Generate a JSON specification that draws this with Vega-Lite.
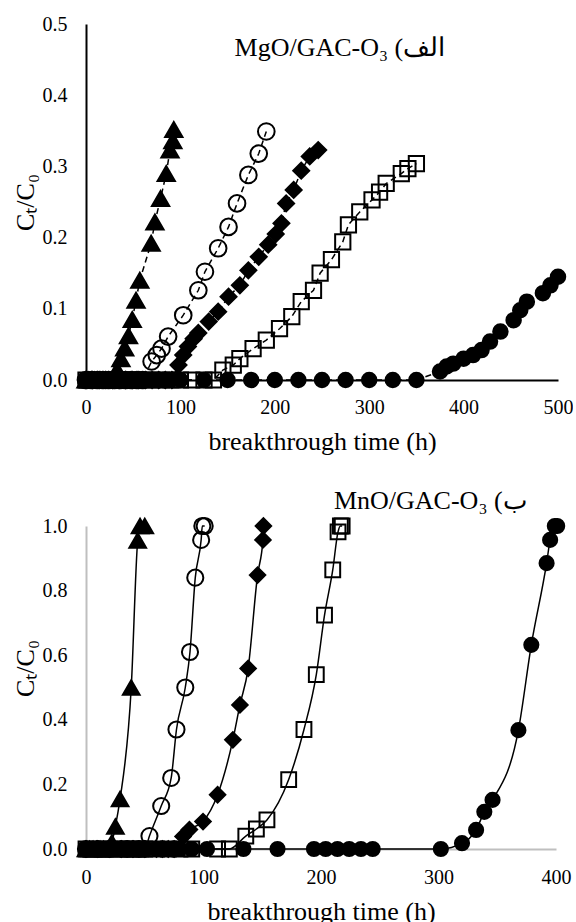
{
  "$schema": "https://vega.github.io/schema/vega-lite/v6.json",
  "padding": {"left": 12, "top": 14, "right": 0, "bottom": 0},
  "background": "white",
  "spacing": 33,
  "datasets": {
    "top": [
      {"s":"A","t":0,"c":0},{"s":"A","t":3,"c":0},{"s":"A","t":6,"c":0},{"s":"A","t":9,"c":0},{"s":"A","t":12,"c":0},{"s":"A","t":15,"c":0},{"s":"A","t":18,"c":0},{"s":"A","t":21,"c":0},{"s":"A","t":24,"c":0},{"s":"A","t":27,"c":0},{"s":"A","t":30,"c":0},
      {"s":"A","t":33,"c":0.014},{"s":"A","t":37,"c":0.03},{"s":"A","t":41,"c":0.045},{"s":"A","t":45,"c":0.062},{"s":"A","t":49,"c":0.085},{"s":"A","t":53,"c":0.112},{"s":"A","t":57,"c":0.14},{"s":"A","t":69,"c":0.192},{"s":"A","t":73,"c":0.222},{"s":"A","t":79,"c":0.255},{"s":"A","t":85,"c":0.29},{"s":"A","t":89,"c":0.323},{"s":"A","t":92,"c":0.336},{"s":"A","t":93,"c":0.352},
      {"s":"B","t":0,"c":0},{"s":"B","t":6,"c":0},{"s":"B","t":12,"c":0},{"s":"B","t":18,"c":0},{"s":"B","t":24,"c":0},{"s":"B","t":30,"c":0},{"s":"B","t":36,"c":0},{"s":"B","t":42,"c":0},{"s":"B","t":48,"c":0},{"s":"B","t":54,"c":0},{"s":"B","t":60,"c":0},
      {"s":"B","t":69.5,"c":0.026},{"s":"B","t":75,"c":0.035},{"s":"B","t":80,"c":0.044},{"s":"B","t":87,"c":0.061},{"s":"B","t":103,"c":0.091},{"s":"B","t":119,"c":0.126},{"s":"B","t":126,"c":0.152},{"s":"B","t":140,"c":0.185},{"s":"B","t":151,"c":0.215},{"s":"B","t":160,"c":0.248},{"s":"B","t":172,"c":0.288},{"s":"B","t":183,"c":0.318},{"s":"B","t":191,"c":0.349},
      {"s":"C","t":0,"c":0},{"s":"C","t":7,"c":0},{"s":"C","t":14,"c":0},{"s":"C","t":21,"c":0},{"s":"C","t":28,"c":0},{"s":"C","t":35,"c":0},{"s":"C","t":42,"c":0},{"s":"C","t":49,"c":0},{"s":"C","t":56,"c":0},{"s":"C","t":63,"c":0},{"s":"C","t":70,"c":0},{"s":"C","t":77,"c":0},{"s":"C","t":84,"c":0},{"s":"C","t":91,"c":0},
      {"s":"C","t":98,"c":0.021},{"s":"C","t":103,"c":0.035},{"s":"C","t":108,"c":0.047},{"s":"C","t":114,"c":0.058},{"s":"C","t":119,"c":0.066},{"s":"C","t":130,"c":0.082},{"s":"C","t":140,"c":0.096},{"s":"C","t":151,"c":0.117},{"s":"C","t":163,"c":0.133},{"s":"C","t":172,"c":0.154},{"s":"C","t":183,"c":0.173},{"s":"C","t":193,"c":0.19},{"s":"C","t":201,"c":0.205},{"s":"C","t":207,"c":0.22},{"s":"C","t":212,"c":0.248},{"s":"C","t":220,"c":0.267},{"s":"C","t":228,"c":0.294},{"s":"C","t":237,"c":0.314},{"s":"C","t":246,"c":0.323},
      {"s":"D","t":0,"c":0},{"s":"D","t":10,"c":0},{"s":"D","t":20,"c":0},{"s":"D","t":30,"c":0},{"s":"D","t":40,"c":0},{"s":"D","t":50,"c":0},{"s":"D","t":60,"c":0},{"s":"D","t":70,"c":0},{"s":"D","t":80,"c":0},{"s":"D","t":90,"c":0},{"s":"D","t":100,"c":0},{"s":"D","t":112,"c":0},{"s":"D","t":125,"c":0},{"s":"D","t":135,"c":0},
      {"s":"D","t":145,"c":0.014},{"s":"D","t":156,"c":0.021},{"s":"D","t":163,"c":0.03},{"s":"D","t":177,"c":0.044},{"s":"D","t":191,"c":0.056},{"s":"D","t":205,"c":0.072},{"s":"D","t":218,"c":0.089},{"s":"D","t":228,"c":0.11},{"s":"D","t":241,"c":0.126},{"s":"D","t":248,"c":0.15},{"s":"D","t":260,"c":0.169},{"s":"D","t":272,"c":0.194},{"s":"D","t":278,"c":0.218},{"s":"D","t":290,"c":0.236},{"s":"D","t":303,"c":0.253},{"s":"D","t":311,"c":0.264},{"s":"D","t":318,"c":0.276},{"s":"D","t":334,"c":0.29},{"s":"D","t":341,"c":0.297},{"s":"D","t":350,"c":0.304},
      {"s":"E","t":0,"c":0},{"s":"E","t":10,"c":0},{"s":"E","t":20,"c":0},{"s":"E","t":30,"c":0},{"s":"E","t":40,"c":0},{"s":"E","t":50,"c":0},{"s":"E","t":60,"c":0},{"s":"E","t":70,"c":0},{"s":"E","t":80,"c":0},{"s":"E","t":90,"c":0},{"s":"E","t":100,"c":0},{"s":"E","t":125,"c":0},{"s":"E","t":150,"c":0},{"s":"E","t":175,"c":0},{"s":"E","t":200,"c":0},{"s":"E","t":225,"c":0},{"s":"E","t":250,"c":0},{"s":"E","t":275,"c":0},{"s":"E","t":300,"c":0},{"s":"E","t":325,"c":0},{"s":"E","t":350,"c":0},
      {"s":"E","t":375,"c":0.012},{"s":"E","t":382,"c":0.019},{"s":"E","t":389,"c":0.023},{"s":"E","t":400,"c":0.03},{"s":"E","t":410,"c":0.035},{"s":"E","t":419,"c":0.042},{"s":"E","t":428,"c":0.054},{"s":"E","t":439,"c":0.068},{"s":"E","t":453,"c":0.084},{"s":"E","t":460,"c":0.098},{"s":"E","t":467,"c":0.11},{"s":"E","t":484,"c":0.122},{"s":"E","t":492,"c":0.133},{"s":"E","t":500,"c":0.145}
    ],
    "bottom": [
      {"s":"A","t":0,"c":0},{"s":"A","t":3,"c":0},{"s":"A","t":6,"c":0},{"s":"A","t":9,"c":0},{"s":"A","t":12,"c":0},{"s":"A","t":15,"c":0},{"s":"A","t":18,"c":0},{"s":"A","t":20,"c":0},
      {"s":"A","t":22,"c":0.02},{"s":"A","t":25,"c":0.07},{"s":"A","t":29,"c":0.155},{"s":"A","t":38.5,"c":0.5},{"s":"A","t":44,"c":0.955},{"s":"A","t":46,"c":1.0},{"s":"A","t":50,"c":1.0},
      {"s":"B","t":0,"c":0},{"s":"B","t":10,"c":0},{"s":"B","t":20,"c":0},{"s":"B","t":30,"c":0},{"s":"B","t":35,"c":0},{"s":"B","t":40,"c":0},{"s":"B","t":45,"c":0},{"s":"B","t":50,"c":0},
      {"s":"B","t":54,"c":0.04},{"s":"B","t":64,"c":0.133},{"s":"B","t":72.5,"c":0.22},{"s":"B","t":77,"c":0.37},{"s":"B","t":84.5,"c":0.5},{"s":"B","t":88.5,"c":0.61},{"s":"B","t":93,"c":0.84},{"s":"B","t":98,"c":0.957},{"s":"B","t":99,"c":1.0},{"s":"B","t":101,"c":1.0},
      {"s":"C","t":0,"c":0},{"s":"C","t":10,"c":0},{"s":"C","t":20,"c":0},{"s":"C","t":30,"c":0},{"s":"C","t":40,"c":0},{"s":"C","t":50,"c":0},{"s":"C","t":60,"c":0},{"s":"C","t":65,"c":0},{"s":"C","t":70,"c":0},{"s":"C","t":75,"c":0},
      {"s":"C","t":82.6,"c":0.039},{"s":"C","t":88,"c":0.06},{"s":"C","t":99.6,"c":0.085},{"s":"C","t":112,"c":0.168},{"s":"C","t":125,"c":0.338},{"s":"C","t":131,"c":0.446},{"s":"C","t":138,"c":0.559},{"s":"C","t":146,"c":0.848},{"s":"C","t":150.6,"c":0.957},{"s":"C","t":151,"c":1.0},
      {"s":"D","t":0,"c":0},{"s":"D","t":10,"c":0},{"s":"D","t":20,"c":0},{"s":"D","t":30,"c":0},{"s":"D","t":40,"c":0},{"s":"D","t":50,"c":0},{"s":"D","t":60,"c":0},{"s":"D","t":70,"c":0},{"s":"D","t":80,"c":0},{"s":"D","t":90,"c":0},{"s":"D","t":112,"c":0},{"s":"D","t":122,"c":0},
      {"s":"D","t":136,"c":0.04},{"s":"D","t":145,"c":0.062},{"s":"D","t":154,"c":0.09},{"s":"D","t":172.5,"c":0.215},{"s":"D","t":185.5,"c":0.37},{"s":"D","t":196,"c":0.54},{"s":"D","t":203,"c":0.724},{"s":"D","t":210,"c":0.864},{"s":"D","t":214.5,"c":0.982},{"s":"D","t":216.5,"c":1.0},{"s":"D","t":218,"c":1.0},
      {"s":"E","t":0,"c":0},{"s":"E","t":10,"c":0},{"s":"E","t":20,"c":0},{"s":"E","t":30,"c":0},{"s":"E","t":40,"c":0},{"s":"E","t":50,"c":0},{"s":"E","t":60,"c":0},{"s":"E","t":70,"c":0},{"s":"E","t":80,"c":0},{"s":"E","t":90,"c":0},{"s":"E","t":103,"c":0},{"s":"E","t":134,"c":0},{"s":"E","t":163,"c":0},{"s":"E","t":194,"c":0},{"s":"E","t":204,"c":0},{"s":"E","t":214,"c":0},{"s":"E","t":224,"c":0},{"s":"E","t":234,"c":0},{"s":"E","t":244,"c":0},{"s":"E","t":302,"c":0},
      {"s":"E","t":320,"c":0.018},{"s":"E","t":332,"c":0.059},{"s":"E","t":339,"c":0.115},{"s":"E","t":346,"c":0.152},{"s":"E","t":368,"c":0.368},{"s":"E","t":379,"c":0.632},{"s":"E","t":392,"c":0.885},{"s":"E","t":395,"c":0.957},{"s":"E","t":399,"c":1.0},{"s":"E","t":401,"c":1.0}
    ]
  },
  "vconcat": [
    {
      "width": 472,
      "height": 356,
      "layer": [
        {"data": {"name": "top"},
         "mark": {"type": "line", "color": "black", "strokeWidth": 1.5, "strokeDash": [6, 4]},
         "encoding": {
           "x": {"field": "t", "type": "quantitative", "scale": {"domain": [0, 500], "nice": false},
                 "axis": {"values": [0, 100, 200, 300, 400, 500], "title": "breakthrough time (h)", "domainColor": "black", "domainWidth": 2, "labelPadding": 17, "titlePadding": 11}},
           "y": {"field": "c", "type": "quantitative", "scale": {"domain": [0, 0.5], "nice": false},
                 "axis": {"values": [0, 0.1, 0.2, 0.3, 0.4, 0.5], "format": ".1f", "title": "Cₜ/C₀", "domainColor": "black", "domainWidth": 2, "labelPadding": 19, "titlePadding": 4}},
           "detail": {"field": "s", "type": "nominal"}}},
        {"data": {"name": "top"},
         "mark": {"type": "point", "filled": true, "stroke": "black", "strokeWidth": 2, "opacity": 1},
         "encoding": {
           "x": {"field": "t", "type": "quantitative"},
           "y": {"field": "c", "type": "quantitative"},
           "shape": {"field": "s", "type": "nominal", "scale": {"domain": ["A","B","C","D","E"], "range": ["triangle-up","circle","diamond","square","circle"]}, "legend": null},
           "fill": {"field": "s", "type": "nominal", "scale": {"domain": ["A","B","C","D","E"], "range": ["black","transparent","black","transparent","black"]}, "legend": null},
           "size": {"field": "s", "type": "ordinal", "scale": {"domain": ["A","B","C","D","E"], "range": [300, 210, 290, 170, 250]}, "legend": null}
         }},
        {"data": {"values": [{"label": "MgO/GAC-O₃ (الف"}]},
         "mark": {"type": "text", "font": "Liberation Serif", "fontSize": 26, "color": "black", "align": "center", "baseline": "alphabetic"},
         "encoding": {
           "x": {"datum": 269, "type": "quantitative"},
           "y": {"datum": 0.455, "type": "quantitative"},
           "text": {"field": "label", "type": "nominal"}}}
      ]
    },
    {
      "width": 470,
      "height": 323,
      "layer": [
        {"data": {"name": "bottom"},
         "mark": {"type": "line", "color": "black", "strokeWidth": 1.5, "interpolate": "monotone"},
         "encoding": {
           "x": {"field": "t", "type": "quantitative", "scale": {"domain": [0, 400], "nice": false},
                 "axis": {"values": [0, 100, 200, 300, 400], "title": "breakthrough time (h)", "domainColor": "#BFBFBF", "domainWidth": 2, "labelPadding": 18, "titlePadding": 11}},
           "y": {"field": "c", "type": "quantitative", "scale": {"domain": [0, 1], "nice": false},
                 "axis": {"values": [0, 0.2, 0.4, 0.6, 0.8, 1.0], "format": ".1f", "title": "Cₜ/C₀", "domainColor": "#BFBFBF", "domainWidth": 2, "labelPadding": 19, "titlePadding": 4, "titleY": 142}},
           "detail": {"field": "s", "type": "nominal"}}},
        {"data": {"name": "bottom"},
         "mark": {"type": "point", "filled": true, "stroke": "black", "strokeWidth": 2, "opacity": 1},
         "encoding": {
           "x": {"field": "t", "type": "quantitative"},
           "y": {"field": "c", "type": "quantitative"},
           "shape": {"field": "s", "type": "nominal", "scale": {"domain": ["A","B","C","D","E"], "range": ["triangle-up","circle","diamond","square","circle"]}, "legend": null},
           "fill": {"field": "s", "type": "nominal", "scale": {"domain": ["A","B","C","D","E"], "range": ["black","transparent","black","transparent","black"]}, "legend": null},
           "size": {"field": "s", "type": "ordinal", "scale": {"domain": ["A","B","C","D","E"], "range": [280, 200, 250, 170, 220]}, "legend": null}
         }},
        {"data": {"values": [{"label": "MnO/GAC-O₃ (ب"}]},
         "mark": {"type": "text", "font": "Liberation Serif", "fontSize": 26, "color": "black", "align": "center", "baseline": "alphabetic"},
         "encoding": {
           "x": {"datum": 293, "type": "quantitative"},
           "y": {"datum": 1.053, "type": "quantitative"},
           "text": {"field": "label", "type": "nominal"}}}
      ]
    }
  ],
  "resolve": {"scale": {"x": "independent", "y": "independent", "shape": "independent", "fill": "independent", "size": "independent"}},
  "config": {
    "font": "Liberation Serif",
    "view": {"stroke": null},
    "axis": {"grid": false, "ticks": false, "tickSize": 0, "labelFlush": false, "labelColor": "black", "titleColor": "black", "titleFontWeight": "normal", "labelFont": "Liberation Serif", "titleFont": "Liberation Serif", "labelFontSize": 20, "titleFontSize": 26}
  }
}
